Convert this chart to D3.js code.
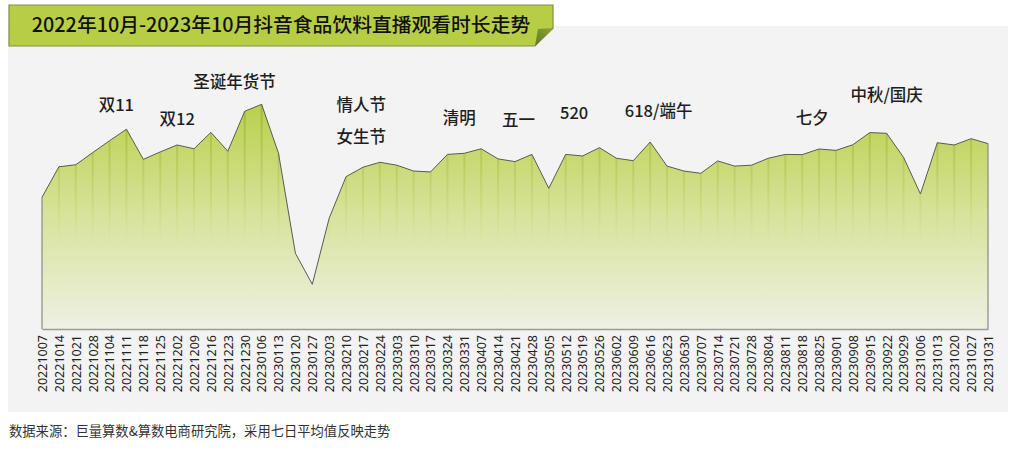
<!DOCTYPE html>
<html>
<head>
<meta charset="utf-8">
<script src="https://cdn.jsdelivr.net/npm/d3@7"></script>
<style>
  html, body { margin: 0; padding: 0; background: #fff; }
  svg { display: block; font-family: "Noto Sans CJK SC", "Noto Sans", sans-serif; }
</style>
</head>
<body>
<svg id="chart" width="1024" height="456"></svg>
<script>
// weekly dates (x categories)
const dates = [
  '20221007','20221014','20221021','20221028','20221104','20221111','20221118','20221125',
  '20221202','20221209','20221216','20221223','20221230','20230106','20230113','20230120',
  '20230127','20230203','20230210','20230217','20230224','20230303','20230310','20230317',
  '20230324','20230331','20230407','20230414','20230421','20230428','20230505','20230512',
  '20230519','20230526','20230602','20230609','20230616','20230623','20230630','20230707',
  '20230714','20230721','20230728','20230804','20230811','20230818','20230825','20230901',
  '20230908','20230915','20230922','20230929','20231006','20231013','20231020','20231027',
  '20231031'
]

// watch time, index (peak week = 100)
const watchTime = [
  58.6, 72.2, 73.1, 78.5, 83.8, 88.9, 75.5, 78.8,
  81.9, 80.2, 87.5, 79.1, 96.9, 100, 78.2, 33.7,
  19.9, 49.3, 67.8, 72.0, 74.2, 72.9, 70.3, 69.9,
  77.7, 78.2, 80.2, 75.7, 74.5, 77.7, 62.6, 77.7,
  77.0, 80.7, 76.0, 74.9, 83.2, 72.5, 70.3, 69.3,
  74.8, 72.5, 72.9, 76.0, 77.7, 77.6, 80.1, 79.5,
  82.0, 87.4, 87.1, 76.4, 60.1, 82.9, 81.9, 84.7,
  82.5
]

// festival notes: text, position along the week index, height in index units
const noteText  = ['双11', '双12', '圣诞年货节', '情人节', '女生节', '清明', '五一', '520', '618/端午', '七夕', '中秋/国庆']
const notePos   = [4.4, 8, 11.4, 18.9, 18.9, 24.7, 28.2, 31.5, 36.5, 45.6, 50]
const noteLevel = [99.7, 93.5, 109.9, 99.7, 85.4, 93.9, 93.0, 96.1, 97.0, 93.9, 104.1]

const title = '2022年10月-2023年10月抖音食品饮料直播观看时长走势'
const source = '数据来源：巨量算数&算数电商研究院，采用七日平均值反映走势'

const svg = d3.select('#chart')
const plot = { left: 42, right: 988, top: 104.3, bottom: 329 }

const x = d3.scalePoint().domain(dates).range([plot.left, plot.right])
const xi = d3.scaleLinear().domain([0, dates.length - 1]).range([plot.left, plot.right])
const y = d3.scaleLinear().domain([0, 100]).range([plot.bottom, plot.top])

// panel
svg.append('rect')
  .attr('x', 8).attr('y', 26).attr('width', 1000).attr('height', 386)
  .attr('fill', '#f3f3f3')

const defs = svg.append('defs')
let fillGrad = defs.append('linearGradient')
  .attr('id', 'areaFill').attr('gradientUnits', 'userSpaceOnUse')
  .attr('x1', 0).attr('x2', 0).attr('y1', plot.top).attr('y2', plot.bottom)
fillGrad.append('stop').attr('offset', 0).attr('stop-color', '#b9d04c')
fillGrad.append('stop').attr('offset', 0.5).attr('stop-color', '#d8e39c')
fillGrad.append('stop').attr('offset', 1).attr('stop-color', '#eef0e3')

let dropGrad = defs.append('linearGradient')
  .attr('id', 'dropFill').attr('gradientUnits', 'userSpaceOnUse')
  .attr('x1', 0).attr('x2', 0).attr('y1', plot.top).attr('y2', 245)
dropGrad.append('stop').attr('offset', 0).attr('stop-color', '#8fab2c').attr('stop-opacity', 0.6)
dropGrad.append('stop').attr('offset', 1).attr('stop-color', '#a8c040').attr('stop-opacity', 0)

let foldGrad = defs.append('linearGradient')
  .attr('id', 'foldFill').attr('x1', 0).attr('x2', 1).attr('y1', 1).attr('y2', 0)
foldGrad.append('stop').attr('offset', 0).attr('stop-color', '#5f7a22')
foldGrad.append('stop').attr('offset', 1).attr('stop-color', '#8fa63c')

const series = watchTime.map((v, i) => ({ date: dates[i], value: v }))

const area = d3.area()
  .x(d => x(d.date))
  .y0(y(0))
  .y1(d => y(d.value))

svg.append('path')
  .datum(series)
  .attr('d', area)
  .attr('fill', 'url(#areaFill)')

// fading drop lines under every week
svg.append('g')
  .selectAll('line')
  .data(series.slice(1, -1))
  .enter()
  .append('line')
    .attr('x1', d => x(d.date)).attr('x2', d => x(d.date))
    .attr('y1', d => y(d.value)).attr('y2', y(0))
    .attr('stroke', 'url(#dropFill)')
    .attr('stroke-width', 2)

// outline: curve plus both sides
svg.append('path')
  .datum(series)
  .attr('d', d3.line().x(d => x(d.date)).y(d => y(d.value)))
  .attr('fill', 'none')
  .attr('stroke', '#5a5a50')
  .attr('stroke-width', 1)

svg.append('g')
  .selectAll('line')
  .data([series[0], series[series.length - 1]])
  .enter()
  .append('line')
    .attr('x1', d => x(d.date)).attr('x2', d => x(d.date))
    .attr('y1', d => y(d.value)).attr('y2', y(0))
    .attr('stroke', '#8a8a80')
    .attr('stroke-width', 1.2)

// x axis
let xAxis = svg.append('g')
  .attr('transform', `translate(0, ${y(0)})`)
  .call(d3.axisBottom(x).tickSize(0).tickPadding(0))
xAxis.select('.domain')
  .attr('stroke', '#9a9a9a')
  .attr('stroke-width', 1.5)
xAxis.selectAll('text')
  .attr('transform', 'translate(0, 6) rotate(-90)')
  .attr('x', 0).attr('y', 0)
  .attr('dy', '0.35em')
  .attr('text-anchor', 'end')
  .style('font-family', '"Noto Sans", sans-serif')
  .style('font-size', '12.5px')
  .style('fill', '#222')

// festival notes
svg.append('g')
  .selectAll('text')
  .data(noteText)
  .enter()
  .append('text')
    .attr('x', (d, i) => xi(notePos[i]))
    .attr('y', (d, i) => y(noteLevel[i]))
    .attr('dy', '0.35em')
    .attr('text-anchor', 'middle')
    .style('font-size', '16.5px')
    .style('font-weight', 500)
    .style('fill', '#1e1e1e')
    .text(d => d)

// title banner
svg.append('path')
  .attr('d', 'M9,5 L553,5 L553,28 L535,46 L9,46 Z')
  .attr('fill', '#b8cd46')
  .attr('stroke', '#7f8f4a')
  .attr('stroke-width', 1.2)
svg.append('path')
  .attr('d', 'M538,29 L554,28 L535,46 Z')
  .attr('fill', 'url(#foldFill)')
svg.append('text')
  .attr('x', 281).attr('y', 25.5)
  .attr('dy', '0.35em')
  .attr('text-anchor', 'middle')
  .style('font-size', '19.8px')
  .style('font-weight', 500)
  .style('fill', '#111')
  .text(title)

svg.append('text')
  .attr('x', 9).attr('y', 431)
  .attr('dy', '0.35em')
  .style('font-size', '13.3px')
  .style('fill', '#333')
  .text(source)
</script>
</body>
</html>
